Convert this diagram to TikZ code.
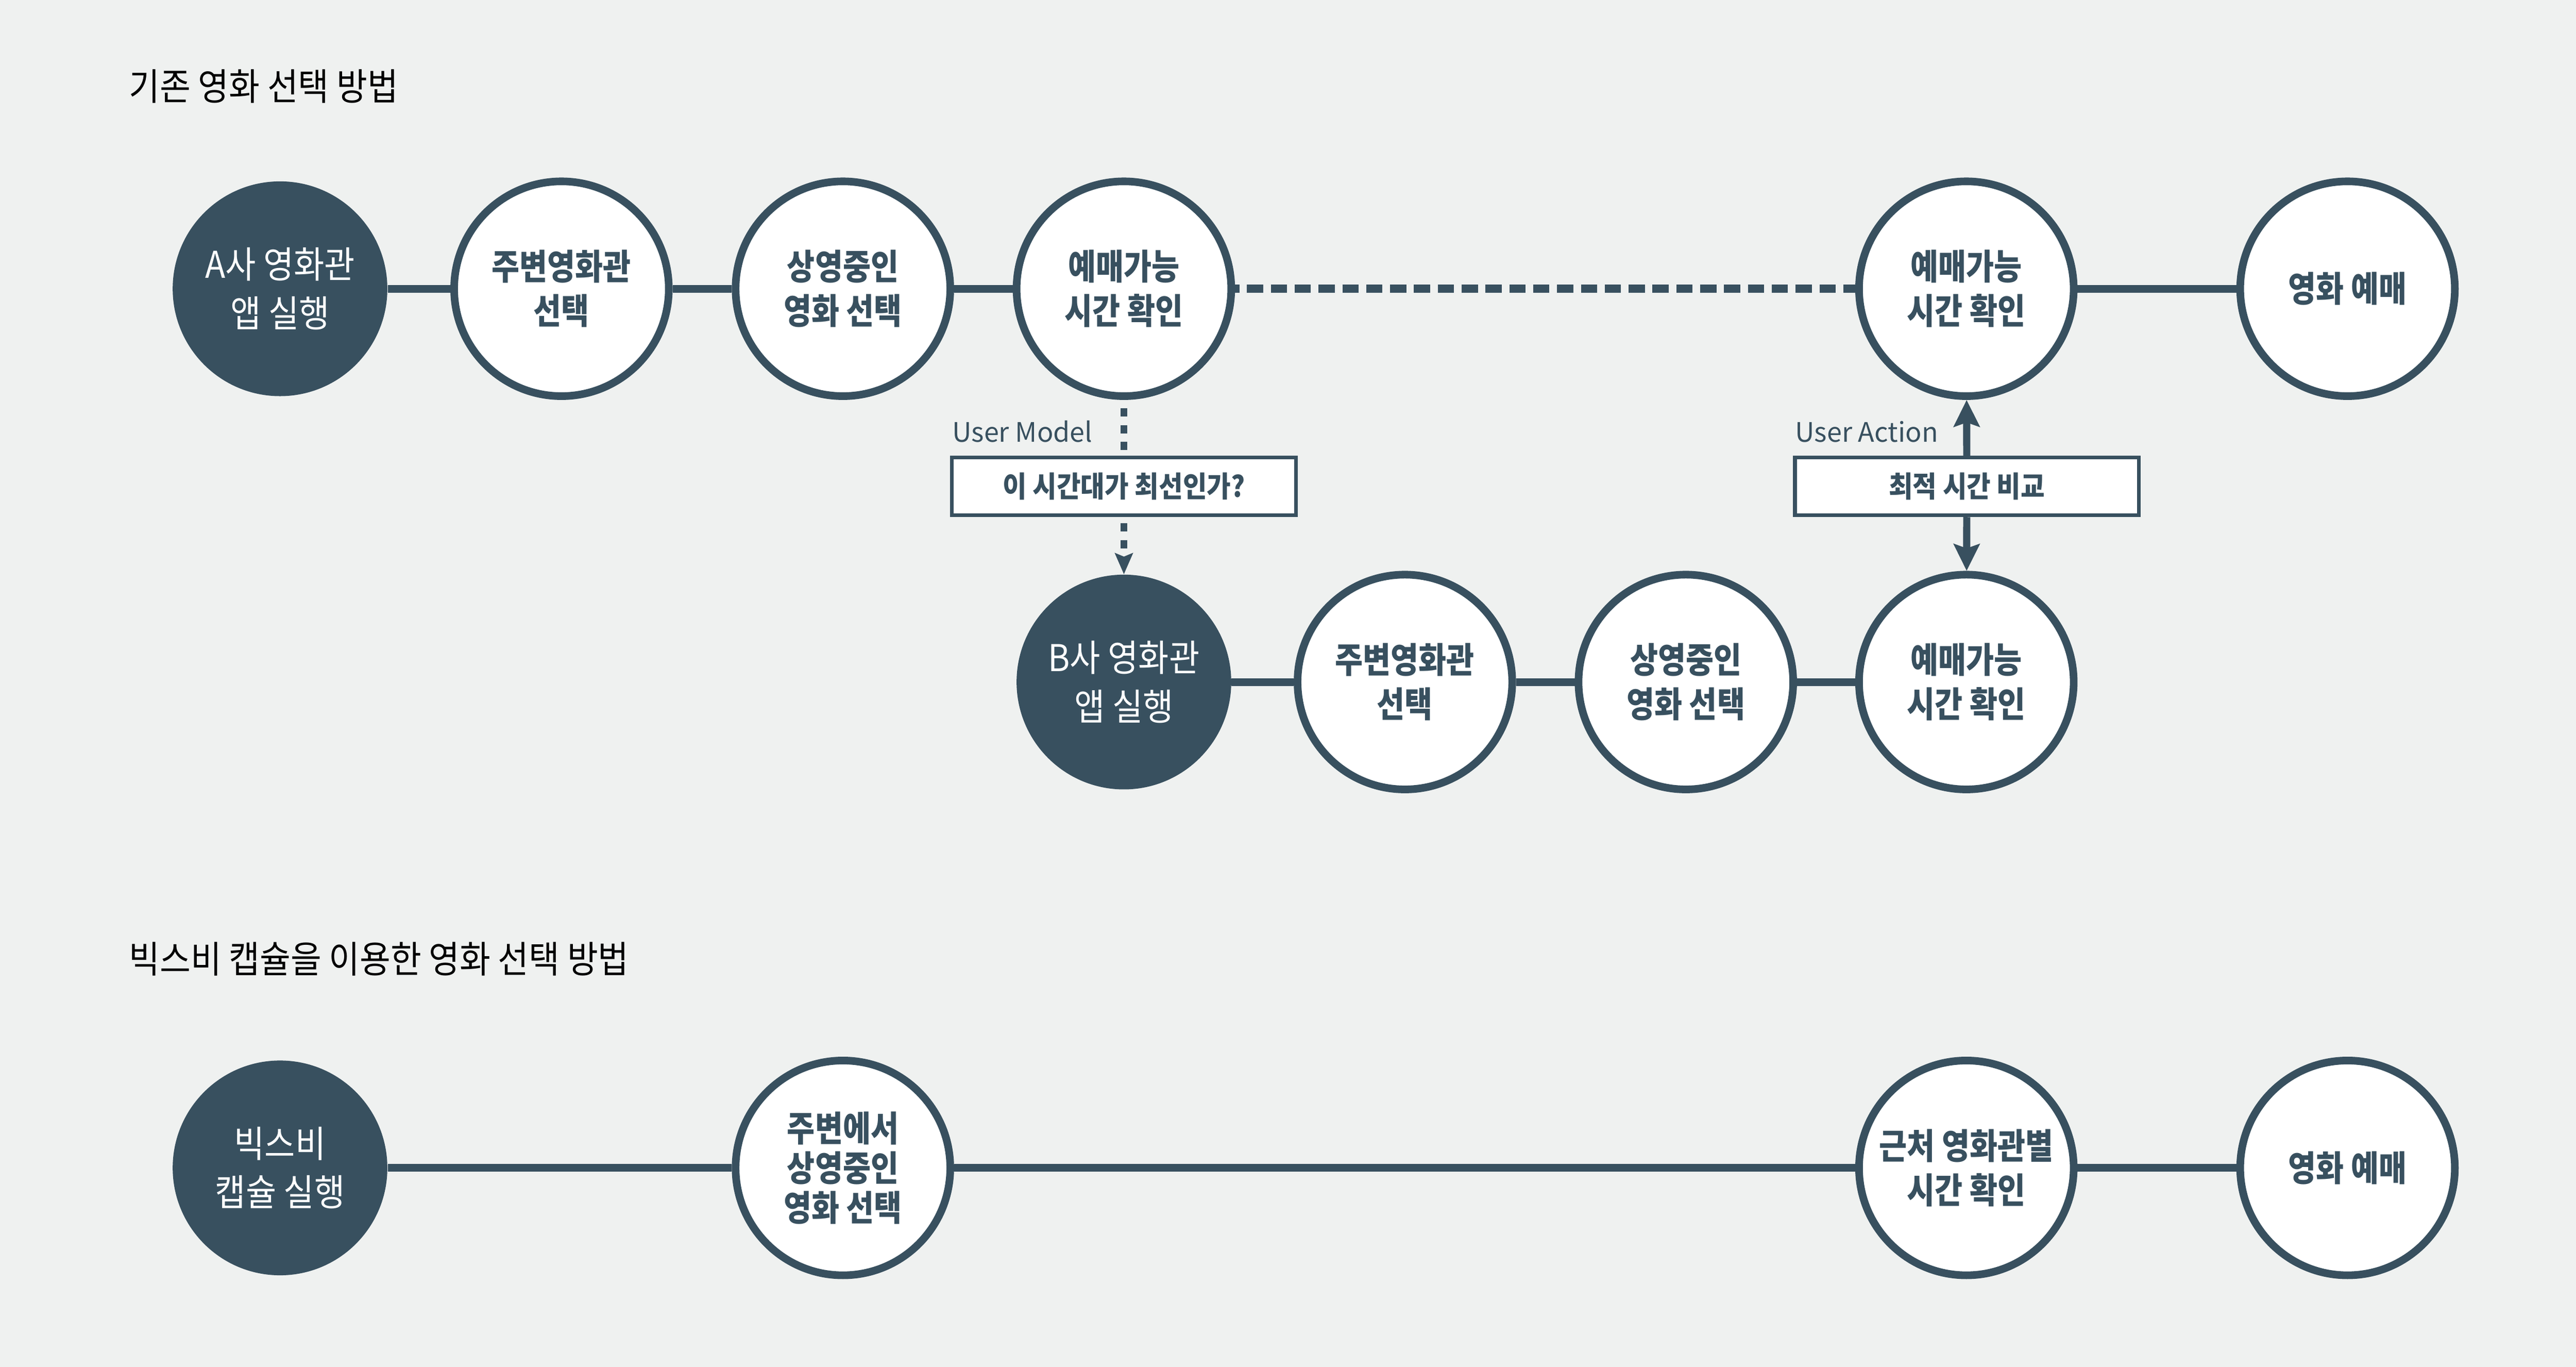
\documentclass[tikz,border=0pt]{standalone}
\usepackage{fontspec}
\setmainfont{Noto Sans CJK KR}
\newfontfamily\krfont[FakeStretch=0.86]{Noto Sans CJK KR}
\newfontfamily\krwide[FakeStretch=0.9]{Noto Sans CJK KR}
\usetikzlibrary{arrows.meta,positioning}
\definecolor{slate}{RGB}{56,80,95}
\definecolor{paper}{RGB}{239,241,240}

\begin{document}
\begin{tikzpicture}[x=1cm,y=-1cm,
    darkcirc/.style={circle,fill=slate,minimum size=4.5cm,inner sep=0pt,align=center,text=white,
      font=\krwide\fontsize{22}{29}\selectfont},
    lightcirc/.style={circle,draw=slate,line width=0.16cm,fill=white,minimum size=4.5cm,inner sep=0pt,
      align=center,text=slate,font=\krfont\bfseries\fontsize{21}{26.5}\selectfont},
    askbox/.style={draw=slate,line width=0.08cm,fill=white,minimum width=7.21cm,minimum height=1.21cm,
      inner sep=0pt,text=slate,font=\krwide\bfseries\fontsize{17.3}{20}\selectfont},
    tag/.style={text=slate,inner sep=0pt,anchor=base west,font=\fontsize{16}{19}\selectfont},
    headline/.style={text=black,inner sep=0pt,anchor=base west,font=\krwide\fontsize{22.2}{26}\selectfont},
    linkline/.style={draw=slate,line width=0.16cm},
    userline/.style={draw=slate,line width=0.13cm,dash pattern=on 0.175cm off 0.175cm},
    userarrow/.style={draw=slate,line width=0.15cm,-{Stealth[length=0.56cm,width=0.54cm,inset=0.09cm]}}]
  \fill[paper] (0,0) rectangle (54,28.64);

  % titles
  \node[headline] (title1) at (2.70,2.10) {기존 영화 선택 방법};
  \node[headline] (title2) at (2.70,20.39) {빅스비 캡슐을 이용한 영화 선택 방법};

  % existing way
  \node[darkcirc] (a1) at (5.87,6.05) {A사 영화관\\앱 실행};
  \node[lightcirc] (a2) at (11.77,6.05) {주변영화관\\선택};
  \node[lightcirc] (a3) at (17.67,6.05) {상영중인\\영화 선택};
  \node[lightcirc] (a4) at (23.56,6.05) {예매가능\\시간 확인};
  \node[lightcirc] (a5) at (41.22,6.05) {예매가능\\시간 확인};
  \node[lightcirc] (a6) at (49.21,6.05) {영화 예매};

  \node[darkcirc] (b1) at (23.56,14.29) {B사 영화관\\앱 실행};
  \node[lightcirc] (b2) at (29.45,14.29) {주변영화관\\선택};
  \node[lightcirc] (b3) at (35.34,14.29) {상영중인\\영화 선택};
  \node[lightcirc] (b4) at (41.22,14.29) {예매가능\\시간 확인};

  \node[askbox] (m1) at (23.56,10.19) {이 시간대가 최선인가?};
  \node[askbox] (m2) at (41.23,10.19) {최적 시간 비교};
  \node[tag] (um) at ([xshift=0.04cm,yshift=0.28cm]m1.north west) {User Model};
  \node[tag] (ua) at ([xshift=0.04cm,yshift=0.28cm]m2.north west) {User Action};

  \draw[linkline] (a1) -- (a2);
  \draw[linkline] (a2) -- (a3);
  \draw[linkline] (a3) -- (a4);
  \draw[linkline] (a5) -- (a6);
  \draw[linkline,line width=0.17cm,dash pattern=on 0.34cm off 0.16cm,dash phase=0.25cm] (a4) -- (a5);
  \draw[linkline] (b1) -- (b2);
  \draw[linkline] (b2) -- (b3);
  \draw[linkline] (b3) -- (b4);

  \draw[userline,dash phase=0.175cm] (a4) -- (m1);
  \draw[userline,dash phase=0.22cm,-{Stealth[length=0.44cm,width=0.37cm,inset=0.07cm]}] (m1) -- (b1);
  \draw[userarrow] (m2) -- (a5);
  \draw[userarrow] (m2) -- (b4);

  % bixby way
  \node[darkcirc] (c1) at (5.87,24.47) {빅스비\\캡슐 실행};
  \node[lightcirc,font=\krfont\bfseries\fontsize{21}{23.6}\selectfont] (c2) at (17.67,24.47) {주변에서\\상영중인\\영화 선택};
  \node[lightcirc] (c3) at (41.22,24.47) {근처 영화관별\\시간 확인};
  \node[lightcirc] (c4) at (49.21,24.47) {영화 예매};

  \draw[linkline] (c1) -- (c2);
  \draw[linkline] (c2) -- (c3);
  \draw[linkline] (c3) -- (c4);
\end{tikzpicture}
\end{document}
